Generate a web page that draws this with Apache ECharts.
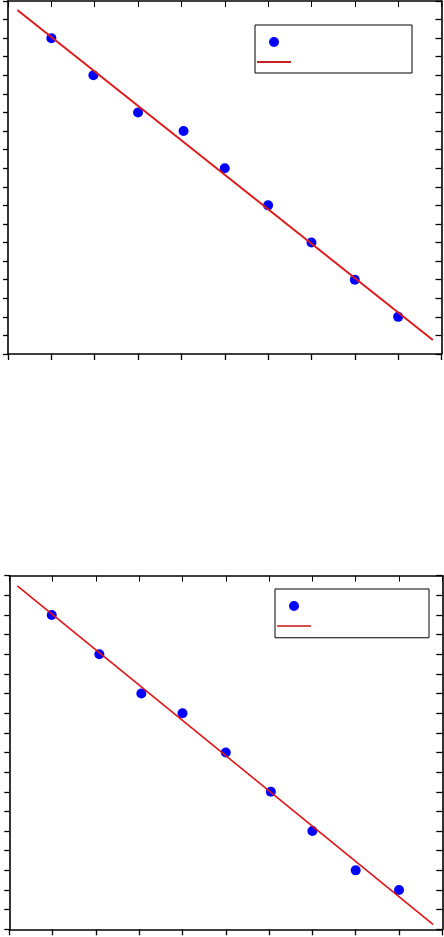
<!DOCTYPE html>
<html>
<head>
<meta charset="utf-8">
<script src="https://cdn.jsdelivr.net/npm/echarts@6/dist/echarts.min.js"></script>
<style>
  html, body { margin: 0; padding: 0; background: #fff; }
  #chart { width: 444px; height: 937px; }
</style>
</head>
<body>
<div id="chart"></div>
<script>
// ---- 上图数据 ----
const topX = [1, 1.97, 3, 4.05, 5, 6, 7, 8, 9]
const topY = [8.5, 7.5, 6.5, 6, 5, 4, 3, 2, 1]
// 拟合直线两端点
const topFitX = [0.215, 9.8]
const topFitY = [9.26, 0.377]

// ---- 下图数据 ----
const botX = [0.98, 2.08, 3.05, 4, 5, 6.04, 7, 8, 9]
const botY = [8, 7, 6, 5.5, 4.5, 3.5, 2.5, 1.5, 1]
const botFitX = [0.185, 9.785]
const botFitY = [8.74, 0.127]

const xRange = [0, 10]
const topYRange = [0, 9.5]
const botYRange = [0, 9]

const zip = (xs, ys) => xs.map((x, i) => [x, ys[i]])

// 四边框坐标轴：底/左刻度朝外，顶/右刻度朝内
function xAxes(grid) {
  const base = {
    type: 'value', gridIndex: grid, min: xRange[0], max: xRange[1], interval: 1,
    axisLabel: { show: false }, splitLine: { show: false },
    axisLine: { show: true, onZero: false, lineStyle: { color: '#000', width: 1.6 } }
  }
  return [
    { ...base, position: 'bottom', axisTick: { inside: false, length: 6, lineStyle: { color: '#000', width: 1.3 } } },
    { ...base, position: 'top', axisTick: { inside: true, length: 6, lineStyle: { color: '#000', width: 1 } } }
  ]
}
function yAxes(grid, range) {
  const base = {
    type: 'value', gridIndex: grid, min: range[0], max: range[1], interval: 0.5,
    axisLabel: { show: false }, splitLine: { show: false },
    axisLine: { show: true, onZero: false, lineStyle: { color: '#000', width: 1.6 } }
  }
  return [
    { ...base, position: 'left', axisTick: { inside: false, length: 5, lineStyle: { color: '#000', width: 1.3 } } },
    { ...base, position: 'right', axisTick: { inside: true, length: 6, lineStyle: { color: '#000', width: 1.3 } } }
  ]
}

// 图例里的直线图标（不带圆点）
const thickLine = 'path://M0,0H34V2H0Z'
const thinLine = 'path://M0,0H34V1.5H0Z'

const chart = echarts.init(document.getElementById('chart'))
chart.setOption({
  animation: false,
  grid: [
    { left: 8, top: 1, width: 433.5, height: 353 },
    { left: 9.3, top: 575.7, width: 433, height: 353.6 }
  ],
  xAxis: [...xAxes(0), ...xAxes(1)],
  yAxis: [...yAxes(0, topYRange), ...yAxes(1, botYRange)],
  legend: [
    {
      data: [{ name: 'Data 1', icon: 'circle' }, { name: 'Fit 1', icon: thickLine, itemStyle: { color: '#c42020' } }],
      orient: 'vertical', left: 255, top: 25,
      itemWidth: 34, itemHeight: 10, itemGap: 10,
      padding: [12, 121, 10, 2],
      borderColor: '#000', borderWidth: 1, backgroundColor: '#fff',
      formatter: () => '', selectedMode: false
    },
    {
      data: [{ name: 'Data 2', icon: 'circle' }, { name: 'Fit 2', icon: thinLine, itemStyle: { color: '#c81818' } }],
      orient: 'vertical', left: 275, top: 589,
      itemWidth: 34, itemHeight: 10, itemGap: 10,
      padding: [12, 118, 11, 2],
      borderColor: '#000', borderWidth: 1, backgroundColor: '#fff',
      formatter: () => '', selectedMode: false
    }
  ],
  series: [
    {
      name: 'Fit 1', type: 'line', xAxisIndex: 0, yAxisIndex: 0,
      data: zip(topFitX, topFitY), symbol: 'none',
      lineStyle: { color: '#de1a1a', width: 2 }, itemStyle: { color: '#de1a1a' }
    },
    {
      name: 'Data 1', type: 'scatter', xAxisIndex: 0, yAxisIndex: 0,
      data: zip(topX, topY), symbolSize: 10, itemStyle: { color: '#0000ff', opacity: 1 }
    },
    {
      name: 'Fit 2', type: 'line', xAxisIndex: 2, yAxisIndex: 2,
      data: zip(botFitX, botFitY), symbol: 'none',
      lineStyle: { color: '#e01414', width: 1.6 }, itemStyle: { color: '#e01414' }
    },
    {
      name: 'Data 2', type: 'scatter', xAxisIndex: 2, yAxisIndex: 2,
      data: zip(botX, botY), symbolSize: 10, itemStyle: { color: '#0000ff', opacity: 1 }
    }
  ]
})
</script>
</body>
</html>
